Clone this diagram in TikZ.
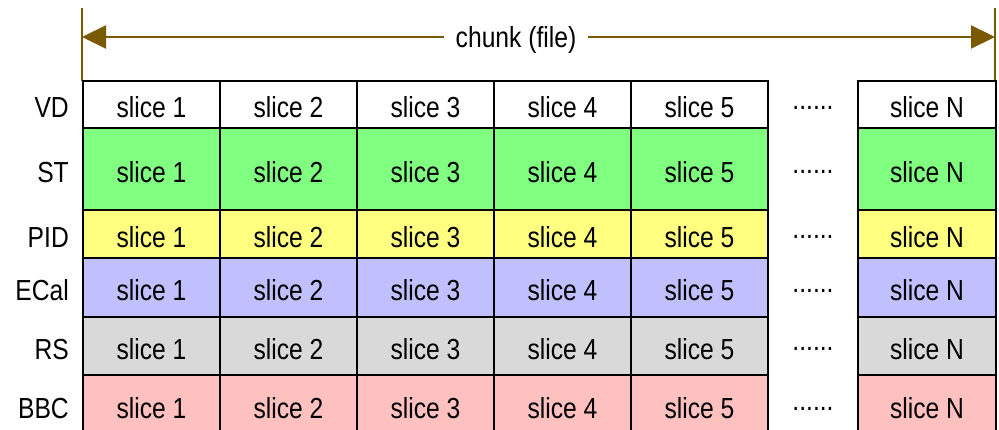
\documentclass[tikz,border=0pt]{standalone}
\usepackage{fontspec}
\setmainfont{Liberation Sans}[FakeStretch=0.85]
\usetikzlibrary{arrows.meta}
\definecolor{stgreen}{RGB}{128,255,128}
\definecolor{pidyellow}{RGB}{255,255,128}
\definecolor{ecalblue}{RGB}{192,192,255}
\definecolor{rsgray}{RGB}{217,217,217}
\definecolor{bbcpink}{RGB}{255,192,192}
\definecolor{spanbrown}{RGB}{122,90,0}
\begin{document}
\begin{tikzpicture}[x=1pt,y=-1pt,
  txt/.style={font=\fontsize{29}{29}\selectfont},
  cell/.style={txt, draw=black, line width=2.8pt, inner sep=0pt, outer sep=0pt,
    minimum width=137pt, text height=28pt, text depth=1pt, anchor=north west},
  rowlabel/.style={txt, inner sep=0pt, text height=28pt, text depth=1pt, anchor=east},
  gapdots/.style={txt, inner sep=0pt, anchor=base},
  spanline/.style={draw=spanbrown, line width=2.2pt},
  spanarrow/.style={spanline, -{Triangle[length=24pt,width=23pt]}}]
\useasboundingbox (0,0) rectangle (999,430);

% extent of the chunk: bracket lines and the two-sided arrow
\coordinate (lt) at (82,8);
\coordinate (lb) at (82,81);
\coordinate (rt) at (995,8);
\coordinate (rb) at (995,81);
\coordinate (la) at (82,37);
\coordinate (ra) at (995,37);
\draw[spanline] (lt) -- (lb);
\draw[spanline] (rt) -- (rb);
\node[txt, inner xsep=12pt, inner ysep=0pt, text height=22pt, text depth=0pt] (chunk) at (516,37) {chunk (file)};
\draw[spanarrow] (chunk.west) -- (la);
\draw[spanarrow] (chunk.east) -- (ra);

% one row of slices per subsystem
\foreach \r/\t/\h/\c [count=\i] in {VD/81/47/white, ST/128/82/stgreen,
    PID/210/48/pidyellow, ECal/258/59/ecalblue, RS/317/58/rsgray, BBC/375/60/bbcpink} {
  \foreach \k in {1,...,5} {
    \node[cell, fill=\c, minimum height=\h pt] (c\i-\k) at ({83+137*(\k-1)},\t) {slice \k};
  }
  \node[cell, fill=\c, minimum height=\h pt, minimum width=138pt] (c\i-N) at (858,\t) {slice N};
  \node[gapdots] (d\i) at (813,{\t+\h/2+5}) {......};
  \node[rowlabel] (l\i) at (69,{\t+\h/2}) {\r};
}
\end{tikzpicture}
\end{document}
